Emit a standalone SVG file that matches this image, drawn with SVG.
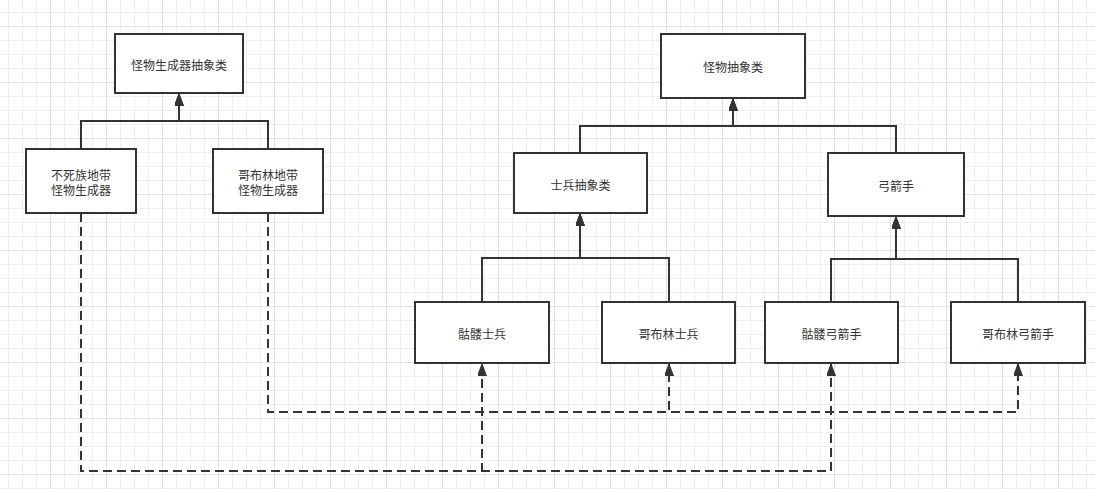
<svg xmlns="http://www.w3.org/2000/svg" width="1095" height="489" viewBox="0 0 1095 489">
<style>
.box{fill:#ffffff;stroke:#333333;stroke-width:2}
.lbl{font-family:"Noto Sans CJK SC","Noto Sans",sans-serif;font-size:12px;fill:#333333;text-anchor:middle;dominant-baseline:central}
.edge{fill:none;stroke:#333333;stroke-width:2}
.dash{stroke-dasharray:9 5}
</style>
<defs>
<pattern id="minor" patternUnits="userSpaceOnUse" x="8" y="12" width="14" height="14">
<path d="M14 0.5 H0.5 V14" fill="none" stroke="#eeeeee" stroke-width="1"/>
</pattern>
<pattern id="major" patternUnits="userSpaceOnUse" x="50" y="26" width="56" height="56">
<path d="M56 0.5 H0.5 V56" fill="none" stroke="#e0e0e0" stroke-width="1"/>
</pattern>
<marker id="arr" viewBox="0 0 12 9" refX="12" refY="4.5" markerWidth="12" markerHeight="9" markerUnits="userSpaceOnUse" orient="auto">
<path d="M0 0 L12 4.5 L0 9 Z" fill="#333333" stroke="#333333" stroke-width="1"/>
</marker>
</defs>
<rect width="1095" height="489" fill="#ffffff"/>
<rect width="1095" height="489" fill="url(#minor)"/>
<rect width="1095" height="489" fill="url(#major)"/>

<g id="connectors">
<path class="edge" d="M81 149 V121 H179 V94" marker-end="url(#arr)"/>
<path class="edge" d="M268 149 V121 H179 V94" marker-end="url(#arr)"/>
<path class="edge" d="M580 153 V126 H733 V99" marker-end="url(#arr)"/>
<path class="edge" d="M896 153 V126 H733 V99" marker-end="url(#arr)"/>
<path class="edge" d="M482 302 V258 H580 V214" marker-end="url(#arr)"/>
<path class="edge" d="M669 302 V258 H580 V214" marker-end="url(#arr)"/>
<path class="edge" d="M831 302 V259 H896 V217" marker-end="url(#arr)"/>
<path class="edge" d="M1018 302 V259 H896 V217" marker-end="url(#arr)"/>
<path class="edge dash" d="M81 213 V471 H482 V364" marker-end="url(#arr)"/>
<path class="edge dash" d="M81 213 V471 H831 V364" marker-end="url(#arr)"/>
<path class="edge dash" d="M268 213 V412 H669 V364" marker-end="url(#arr)"/>
<path class="edge dash" d="M268 213 V412 H1018 V364" marker-end="url(#arr)"/>
</g>

<g id="monster-factory-abstract">
<rect class="box" x="115" y="34" width="128" height="59"/>
<text class="lbl" x="179" y="64">怪物生成器抽象类</text>
</g>
<g id="undead-factory">
<rect class="box" x="26" y="149" width="110" height="64"/>
<text class="lbl" x="81" y="174">不死族地带</text>
<text class="lbl" x="81" y="189">怪物生成器</text>
</g>
<g id="goblin-factory">
<rect class="box" x="213" y="149" width="110" height="64"/>
<text class="lbl" x="268" y="174">哥布林地带</text>
<text class="lbl" x="268" y="189">怪物生成器</text>
</g>
<g id="monster-abstract">
<rect class="box" x="661" y="34" width="144" height="64"/>
<text class="lbl" x="733" y="66">怪物抽象类</text>
</g>
<g id="soldier-abstract">
<rect class="box" x="514" y="153" width="133" height="60"/>
<text class="lbl" x="580.5" y="184">士兵抽象类</text>
</g>
<g id="archer-abstract">
<rect class="box" x="828" y="153" width="136" height="63"/>
<text class="lbl" x="896" y="185">弓箭手</text>
</g>
<g id="skeleton-soldier">
<rect class="box" x="415" y="302" width="134" height="61"/>
<text class="lbl" x="482" y="333">骷髅士兵</text>
</g>
<g id="goblin-soldier">
<rect class="box" x="602" y="302" width="133" height="61"/>
<text class="lbl" x="668.5" y="333">哥布林士兵</text>
</g>
<g id="skeleton-archer">
<rect class="box" x="765" y="302" width="133" height="61"/>
<text class="lbl" x="831.5" y="333">骷髅弓箭手</text>
</g>
<g id="goblin-archer">
<rect class="box" x="951" y="302" width="134" height="61"/>
<text class="lbl" x="1018" y="333">哥布林弓箭手</text>
</g>
</svg>
